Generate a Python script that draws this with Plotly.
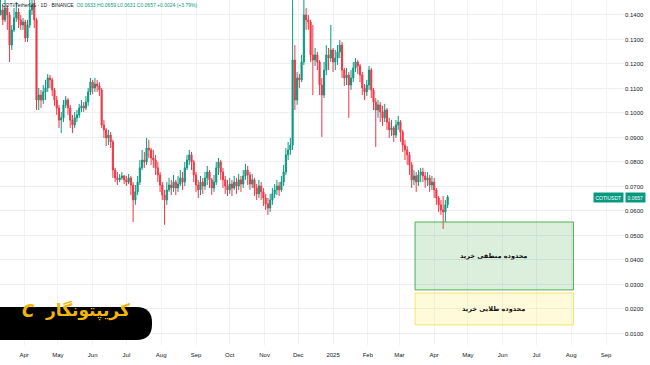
import pandas as pd
import plotly.graph_objects as go

# ---- data (2-day candles, COTI/USDT) ----
start_date = "2024-03-11"
closes = [0.1420,0.1380,0.1428,0.1400,0.1277,0.1339,0.1388,0.1412,0.1380,0.1359,
          0.1371,0.1306,0.1359,0.1420,0.1441,0.1380,0.1053,0.1073,0.1053,0.1086,
          0.1102,0.1143,0.1135,0.1094,0.1053,0.1020,0.0971,0.0980,0.1033,0.1053,
          0.1020,0.0971,0.0951,0.0980,0.0992,0.1020,0.1029,0.1020,0.1045,0.1086,
          0.1126,0.1102,0.1118,0.1110,0.1094,0.0951,0.0931,0.0898,0.0910,0.0882,
          0.0767,0.0735,0.0727,0.0735,0.0743,0.0727,0.0718,0.0735,0.0706,0.0645,
          0.0678,0.0718,0.0776,0.0808,0.0800,0.0857,0.0849,0.0816,0.0808,0.0776,
          0.0747,0.0706,0.0665,0.0645,0.0686,0.0706,0.0694,0.0718,0.0694,0.0710,
          0.0735,0.0718,0.0776,0.0808,0.0829,0.0800,0.0747,0.0706,0.0686,0.0718,
          0.0702,0.0735,0.0759,0.0727,0.0694,0.0718,0.0776,0.0800,0.0759,0.0727,
          0.0702,0.0686,0.0710,0.0694,0.0718,0.0702,0.0727,0.0710,0.0743,0.0767,
          0.0747,0.0710,0.0727,0.0694,0.0670,0.0702,0.0678,0.0653,0.0629,0.0612,
          0.0645,0.0670,0.0686,0.0702,0.0686,0.0718,0.0759,0.0829,0.0849,0.0869,
          0.1216,0.1053,0.1143,0.1135,0.1208,0.1400,0.1380,0.1371,0.1237,0.1216,
          0.1237,0.1208,0.1114,0.1073,0.1175,0.1237,0.1224,0.1257,0.1208,0.1224,
          0.1249,0.1277,0.1175,0.1143,0.1155,0.1114,0.1143,0.1184,0.1208,0.1192,
          0.1155,0.1102,0.1086,0.1114,0.1175,0.1094,0.1045,0.1012,0.1033,0.1004,
          0.0980,0.1012,0.0963,0.0931,0.0939,0.0910,0.0951,0.0963,0.0922,0.0869,
          0.0849,0.0829,0.0788,0.0727,0.0743,0.0718,0.0747,0.0759,0.0743,0.0727,
          0.0735,0.0706,0.0718,0.0686,0.0653,0.0625,0.0604,0.0596,0.0625,0.0657]
highs = [0.1461,0.1441,0.1461,0.1441,0.1412,0.1359,0.1428,0.1453,0.1428,0.1400,
         0.1388,0.1380,0.1380,0.1461,0.1461,0.1461,0.1388,0.1102,0.1094,0.1114,
         0.1135,0.1159,0.1155,0.1143,0.1102,0.1069,0.1033,0.1004,0.1053,0.1069,
         0.1061,0.1033,0.0992,0.1004,0.1012,0.1037,0.1053,0.1045,0.1069,0.1102,
         0.1143,0.1135,0.1143,0.1135,0.1126,0.1102,0.0971,0.0939,0.0931,0.0922,
         0.0890,0.0776,0.0759,0.0751,0.0759,0.0747,0.0743,0.0751,0.0743,0.0718,
         0.0706,0.0743,0.0808,0.0849,0.0841,0.0898,0.0890,0.0857,0.0849,0.0829,
         0.0800,0.0759,0.0718,0.0686,0.0718,0.0735,0.0727,0.0747,0.0727,0.0743,
         0.0767,0.0759,0.0800,0.0829,0.0849,0.0841,0.0808,0.0759,0.0727,0.0743,
         0.0735,0.0759,0.0784,0.0767,0.0735,0.0747,0.0800,0.0816,0.0808,0.0776,
         0.0743,0.0727,0.0735,0.0727,0.0743,0.0735,0.0751,0.0743,0.0767,0.0792,
         0.0784,0.0759,0.0751,0.0735,0.0710,0.0727,0.0718,0.0694,0.0670,0.0653,
         0.0670,0.0694,0.0710,0.0727,0.0718,0.0743,0.0788,0.0857,0.0882,0.0898,
         0.1461,0.1277,0.1167,0.1159,0.1237,0.1461,0.1428,0.1400,0.1380,0.1359,
         0.1265,0.1249,0.1216,0.1143,0.1208,0.1277,0.1265,0.1359,0.1265,0.1257,
         0.1277,0.1298,0.1290,0.1184,0.1184,0.1167,0.1175,0.1208,0.1224,0.1216,
         0.1200,0.1167,0.1118,0.1135,0.1192,0.1184,0.1102,0.1061,0.1053,0.1045,
         0.1029,0.1037,0.1020,0.0980,0.0971,0.0947,0.0971,0.0988,0.0971,0.0931,
         0.0890,0.0865,0.0841,0.0800,0.0767,0.0759,0.0767,0.0776,0.0776,0.0759,
         0.0759,0.0747,0.0743,0.0735,0.0694,0.0661,0.0645,0.0661,0.0645,0.0665]
lows = [0.1400,0.1359,0.1371,0.1339,0.1208,0.1257,0.1330,0.1371,0.1347,0.1339,
        0.1339,0.1290,0.1290,0.1347,0.1400,0.1347,0.1012,0.1012,0.1020,0.1037,
        0.1053,0.1086,0.1102,0.1069,0.1029,0.0992,0.0939,0.0918,0.0963,0.1020,
        0.0992,0.0939,0.0918,0.0939,0.0963,0.0980,0.1004,0.1004,0.1012,0.1029,
        0.1073,0.1077,0.1086,0.1086,0.1069,0.0939,0.0898,0.0865,0.0869,0.0857,
        0.0735,0.0718,0.0706,0.0718,0.0727,0.0710,0.0702,0.0710,0.0665,0.0555,
        0.0625,0.0665,0.0706,0.0767,0.0776,0.0788,0.0816,0.0788,0.0776,0.0747,
        0.0718,0.0678,0.0645,0.0543,0.0625,0.0678,0.0665,0.0678,0.0665,0.0678,
        0.0702,0.0686,0.0702,0.0767,0.0788,0.0767,0.0718,0.0678,0.0653,0.0665,
        0.0670,0.0686,0.0706,0.0694,0.0665,0.0678,0.0706,0.0747,0.0727,0.0694,
        0.0670,0.0661,0.0670,0.0661,0.0686,0.0670,0.0686,0.0678,0.0694,0.0727,
        0.0706,0.0686,0.0694,0.0661,0.0645,0.0653,0.0645,0.0620,0.0604,0.0584,
        0.0596,0.0625,0.0653,0.0665,0.0661,0.0678,0.0702,0.0747,0.0808,0.0829,
        0.0849,0.1012,0.1033,0.1102,0.1126,0.1196,0.1339,0.1339,0.1208,0.1073,
        0.1192,0.1175,0.1073,0.0902,0.1061,0.1155,0.1175,0.1208,0.1167,0.1175,
        0.1196,0.1224,0.1143,0.1110,0.1114,0.0980,0.1094,0.1126,0.1167,0.1159,
        0.1126,0.1073,0.1053,0.1069,0.1094,0.1061,0.1012,0.0861,0.0980,0.0963,
        0.0947,0.0963,0.0931,0.0898,0.0906,0.0882,0.0898,0.0931,0.0882,0.0841,
        0.0808,0.0788,0.0747,0.0694,0.0706,0.0678,0.0702,0.0718,0.0718,0.0694,
        0.0702,0.0678,0.0686,0.0653,0.0625,0.0596,0.0584,0.0527,0.0555,0.0612]
first_open = 0.1400

y_tick_vals = [0.01, 0.02, 0.03, 0.04, 0.05, 0.06, 0.07, 0.08, 0.09, 0.10, 0.11, 0.12, 0.13, 0.14]
y_tick_text = ["0.0100", "0.0200", "0.0300", "0.0400", "0.0500", "0.0600", "0.0700",
               "0.0800", "0.0900", "0.1000", "0.1100", "0.1200", "0.1300", "0.1400"]
x_tick_dates = ["2024-04-01", "2024-05-01", "2024-06-01", "2024-07-01", "2024-08-01",
                "2024-09-01", "2024-10-01", "2024-11-01", "2024-12-01", "2025-01-01",
                "2025-02-01", "2025-03-01", "2025-04-01", "2025-05-01", "2025-06-01",
                "2025-07-01", "2025-08-01", "2025-09-01"]
x_tick_text = ["Apr", "May", "Jun", "Jul", "Aug", "Sep", "Oct", "Nov", "Dec", "2025",
               "Feb", "Mar", "Apr", "May", "Jun", "Jul", "Aug", "Sep"]

logical_zone = (0.0278, 0.0555)   # محدوده منطقی خرید
golden_zone = (0.0135, 0.0265)    # محدوده طلایی خرید
zone_dates = ("2025-03-15", "2025-08-03")
last_price = 0.0657

# ---- build ----
dates = pd.date_range(start_date, periods=len(closes), freq="2D")
opens = [first_open] + closes[:-1]
hi = [max(h, o, c) for h, o, c in zip(highs, opens, closes)]
lo = [min(l, o, c) for l, o, c in zip(lows, opens, closes)]

GREEN = "#089981"
RED = "#F23645"
FONT = "Liberation Sans"
FA_FONT = "DejaVu Sans"

fig = go.Figure()
fig.add_trace(go.Candlestick(
    x=dates, open=opens, high=hi, low=lo, close=closes,
    increasing=dict(line=dict(color=GREEN, width=1), fillcolor=GREEN),
    decreasing=dict(line=dict(color=RED, width=1), fillcolor=RED),
    whiskerwidth=0, showlegend=False, hoverinfo="skip",
))

shapes = [
    dict(type="rect", xref="x", yref="y", x0=zone_dates[0], x1=zone_dates[1],
         y0=logical_zone[0], y1=logical_zone[1],
         fillcolor="rgba(76,175,80,0.20)", line=dict(color="#4caf50", width=1), layer="above"),
    dict(type="rect", xref="x", yref="y", x0=zone_dates[0], x1=zone_dates[1],
         y0=golden_zone[0], y1=golden_zone[1],
         fillcolor="rgba(255,238,88,0.22)", line=dict(color="#f7e36a", width=1), layer="above"),
]
# logo pill (paper coords)
x1, yt, yb, rx, ry = 0.2436, 0.1101, 0.0145, 0.025, 0.045
shapes.append(dict(
    type="path", xref="paper", yref="paper",
    path=(f"M 0,{yb} L {x1-rx},{yb} Q {x1},{yb} {x1},{yb+ry} "
          f"L {x1},{yt-ry} Q {x1},{yt} {x1-rx},{yt} L 0,{yt} Z"),
    fillcolor="#000000", line=dict(width=0), layer="above"))

mid_date = "2025-05-24"
annotations = [
    dict(x=mid_date, y=sum(logical_zone) / 2, xref="x", yref="y", text="<b>محدوده منطقی خرید</b>",
         showarrow=False, font=dict(family=FA_FONT, size=6.5, color="#111111")),
    dict(x=mid_date, y=sum(golden_zone) / 2, xref="x", yref="y", text="<b>محدوده طلایی خرید</b>",
         showarrow=False, font=dict(family=FA_FONT, size=6.5, color="#111111")),
    dict(x=0.141, y=0.0625, xref="paper", yref="paper", xanchor="center", text="<b>کریپتونگار</b>",
         showarrow=False, font=dict(family=FA_FONT, size=17, color="#f2b705")),
    dict(x=0.045, y=0.0625, xref="paper", yref="paper", xanchor="center", text="<b><i>C</i></b>",
         showarrow=False, font=dict(family=FA_FONT, size=17, color="#f2b705")),
    dict(x=0, y=1, xref="paper", yref="paper", xanchor="left", yanchor="top", yshift=0,
         text=("COTI/TetherUS · 1D · BINANCE  "
               "<span style='color:#089981'>O0.0633 H0.0659 L0.0631 C0.0657 +0.0024 (+3.79%)</span>"),
         showarrow=False, font=dict(family=FONT, size=5, color="#131722")),
    dict(x=1, y=last_price, xref="paper", yref="y", xanchor="right", text="COTIUSDT",
         showarrow=False, bgcolor=GREEN, borderpad=1.5, font=dict(family=FONT, size=5, color="white")),
    dict(x=1, y=last_price, xref="paper", yref="y", xanchor="left", xshift=1, text="0.0657",
         showarrow=False, bgcolor=GREEN, borderpad=1.5, font=dict(family=FONT, size=5, color="white")),
]

fig.update_layout(
    width=650, height=365,
    margin=dict(l=0, r=26, t=0, b=20),
    paper_bgcolor="white", plot_bgcolor="white",
    shapes=shapes, annotations=annotations,
    font=dict(family=FONT, size=6, color="#131722"),
    xaxis=dict(
        type="date", range=["2024-03-10 12:00", "2025-09-17"],
        rangeslider=dict(visible=False),
        tickmode="array", tickvals=x_tick_dates, ticktext=x_tick_text,
        tickfont=dict(family=FONT, size=6, color="#131722"),
        showgrid=True, gridcolor="#f0f2f5", gridwidth=1, zeroline=False,
        showline=False, ticks="", ticklabelstandoff=5,
    ),
    yaxis=dict(
        side="right", range=[0.0053, 0.1461],
        tickmode="array", tickvals=y_tick_vals, ticktext=y_tick_text,
        tickfont=dict(family=FONT, size=6, color="#131722"),
        showgrid=True, gridcolor="#eceef2", gridwidth=1, zeroline=False,
        showline=False, ticks="", automargin=False,
    ),
)

fig.write_html("out.html", config={"displayModeBar": False, "staticPlot": True},
               post_script="document.body.style.margin='0';document.body.style.overflow='hidden';")
